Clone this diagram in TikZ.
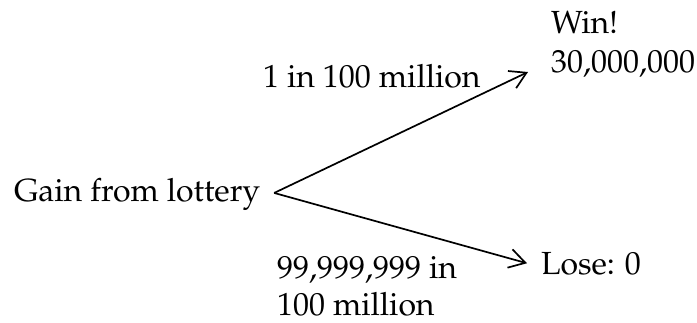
\documentclass[tikz,border=0pt]{standalone}
\usepackage[T1]{fontenc}
\usepackage{mathpazo}
\usetikzlibrary{arrows.meta,calc}
\begin{document}
\begin{tikzpicture}[x=1pt,y=-1pt,
  lab/.style={inner sep=0pt,outer sep=0pt,font=\fontsize{32}{39}\selectfont},
  conn/.style={line width=1.7pt,-{Straight Barb[length=16pt,width=19pt,line width=1.7pt]}}]
\useasboundingbox (0,0) rectangle (697,322);
\node[lab,anchor=base west] (gain) at (14,201) {Gain from lottery};
\node[lab,anchor=base west] (up) at (263,87) {1 in 100 million};
\node[lab,anchor=base west] (down1) at (277,278) {99,999,999 in};
\node[lab,anchor=base west] (down2) at (277,315) {100 million};
\node[lab,anchor=base west] (win1) at (551,33) {Win!};
\node[lab,anchor=base west] (win2) at (551,72) {30,000,000};
\node[lab,anchor=base west] (lose) at (541,274) {Lose: 0};
\draw[conn] ([xshift=14pt,yshift=1pt]gain.east) -- ($(win2.base west)+(-23,0)$);
\draw[conn] ([xshift=14pt,yshift=1pt]gain.east) -- ([xshift=-14pt]lose.west);
\end{tikzpicture}
\end{document}
